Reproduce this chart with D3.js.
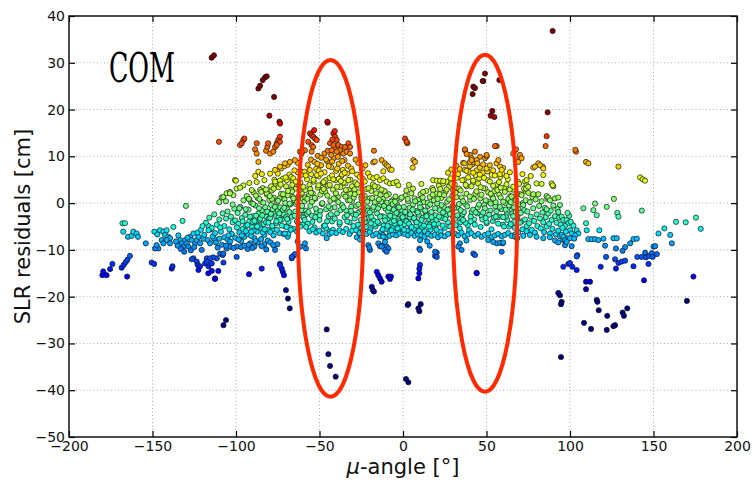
<!DOCTYPE html>
<html>
<head>
<meta charset="utf-8">
<script src="https://cdn.jsdelivr.net/npm/d3@7/dist/d3.min.js"></script>
<style>
  html, body { margin: 0; padding: 0; background: #fff; }
  svg { display: block; }
</style>
</head>
<body>
<svg id="chart" width="754" height="483"></svg>
<script>
// SLR residuals (cm) against mu-angle (deg), grouped by angle range.
const tailLeft = [[-180,-15.4],[-177.5,-15.4],[-179.5,-14.6],[-175.4,-14.1],[-174,-13],[-168.5,-13.8],[-167.2,-13.2],[-166,-12.6],[-165,-12.1],[-163.5,-11.3],[-165.2,-15.7],[-168,-4.3],[-166.5,-4.3],[-167.5,-6.1],[-164.7,-7.2],[-162.5,-7],[-161.5,-6.1],[-159.5,-6.5],[-158.7,-7.2],[-154,-8.6],[-150.5,-12.7],[-149,-13]];

const bandWest = [[-148.9,-6.1],[-147.1,-6.7],[-145.5,-5.8],[-143.5,-6.1],[-142.5,-6.8],[-141.5,-5.8],[-140.5,-7.2],[-139.5,-7.5],[-144.5,-7.9],[-146.5,-9.7],[-148.5,-9.7],[-147.5,-9],[-143.5,-8.6],[-141.5,-7.9],[-139.5,-8.6],[-137.5,-5.1],[-132,-3.8],[-130,-0.6],[-138.5,-14],[-138,-13.5],
[-133.5,-7.9],[-132.5,-8.6],[-131.5,-9.3],[-130.5,-7.9],[-129.5,-8.6],[-128.5,-9.3],[-127.5,-7.2],[-126.5,-7.9],[-125.5,-6.5],[-124.5,-8.6],[-123.5,-7.9],[-122.5,-7.2],[-121.5,-8.6],[-120.5,-10],[-133,-9.8],[-131,-10.4],[-129,-7.4],[-127,-10.1],[-125,-9.4],[-123,-6.3],[-121,-5.7],[-119.5,-7.6],[-134.5,-6.9],[-136,-8.2],[-135,-9.1],[-116.4,-4.9],[-115.2,-5.6],[-113.2,-7.6],
[-125.5,-11.8],[-123.5,-12.5],[-123,-13.2],[-121.5,-13.5],[-118.5,-12.9],[-117.5,-11.8],[-116.5,-13.5],[-114.5,-14.5],[-112.5,-16.1],[-114.5,-12.9],[-111.5,-11.8],[-109.5,-10.8],[-107.5,-12.7],[-108,-11.1],[-126.5,-12],[-122.5,-14.3],[-116.6,-15],[-112.6,-16.2],[-110.6,-14.5],[-113.6,-11.6],[-115.6,-11.8],[-117.5,-12.5],[-107.6,-10.8],[-105.6,-9.7],[-103.6,-9.3],[-99.6,-9.3],[-99.6,-11.5],[-92.2,-15.2],[-84.6,-14],[-107.5,-26.1],[-106,-25]];

const bandWestMid = [[-118,-4.2],[-116,-3.1],[-114.5,-5.3],[-113,-2.4],[-111.5,-4.6],[-110,-3.5],[-109,-6.1],[-108,-2.2],[-107,-4.9],[-106,-3.3],[-105,-1.8],[-104,-5.6],[-103,-2.9],[-102,-4.1],[-101,-1.2],[-100.5,-3.7],[-119,-6.8],[-117,-7.9],[-115.5,-8.6],[-114,-7.1],[-112,-8.4],[-111,-9.5],[-110,-7.6],[-108.5,-8.9],[-107,-7.3],[-106,-9.1],[-105,-7.8],[-103.5,-8.2],[-102.5,-6.6],[-101.5,-9.6],[-100.5,-7.4],[-109.5,-5.2],[-104.5,-6.9],[-112.5,-6.4],[-116.5,-5.8],[-120,-4.9],
[-108.6,1.2],[-107.6,1.3],[-105.6,2.1],[-103.6,2.4],[-101.6,1.7],[-103.6,2.1],[-100.6,4.9],[-100,4.8],[-99.6,3.1],[-110,0.2],[-106,0.4],[-102,-0.3]];

const band100to80 = [[-99,-2.1],[-98.5,-4.4],[-98,-6.3],[-97.5,-0.8],[-97,-8.1],[-96.5,-3.2],[-96,-5.5],[-95.5,0.6],[-95,-7.2],[-94.5,-2.5],[-94,-4.8],[-93.5,1.5],[-93,-6.6],[-92.5,-1.4],[-92,-3.9],[-91.5,-8.6],[-91,0.1],[-90.5,-5.1],[-90,-2.8],[-89.5,2.3],[-89,-7.5],[-88.5,-0.5],[-88,-4.2],[-87.5,-6.1],[-87,1.1],[-86.5,-2.2],[-86,-3.6],[-85.5,-5.3],[-85,0.3],[-84.5,-1.5],[-84,3.2],[-83.5,-4.5],[-83,-6.8],[-82.5,-0.9],[-82,-2.9],[-81.5,1.8],[-81,-5.7],[-80.5,-3.4],[-80,0.7],[-99.5,-5.2],[-98,-1.1],[-96,-3.9],[-94,-6.0],[-92,0.8],[-90,-4.0],[-88,-2.7],[-86,0.9],[-84,-6.3],[-82,-4.1],[-80,-1.9],[-97,-9.4],[-95,-9.1],[-93,-9.8],[-91,-7.0],[-89,-9.3],[-87,-8.4],[-85,-7.7],[-83,-8.8],[-81,-8.0],[-98.5,-7.8],[-96.5,-6.9],[-89.5,-5.9],[-86.5,-4.8],
[-92.4,-8.9],[-90.2,-9.6],[-88.3,-8.1],[-84.7,-9.2],[-81.9,-9.9],[-79.3,-8.4],[-75.2,-8.8],[-63.1,-8.2],[-61.4,-9.3],
[-95.6,3.8],[-90.6,2.8],[-85.6,2.8],[-81.6,2.1],[-87.6,4.5],[-83,4.9],[-86.6,6.7],[-88.5,5.8],[-84.5,6.2],[-92,4.3],[-97.5,3.3],
[-97.6,12.4],[-96.6,12.8],[-95.6,13.5],[-95,13.8],[-87.6,12.8],[-88.6,11.5],[-87.6,10.6],[-86.6,8.8],[-82,11.2],[-81.2,12],[-80.7,12.8],[-80,18.7],[-86.6,24.5],[-85.6,25.1],[-84,26.3],[-82.6,26.9],[-81.6,27.1],[-110.2,13.1],[-114.6,31.1],[-113.2,31.6]];

const band80to60 = [[-79.5,-3.2],[-79,-0.4],[-78.5,2.7],[-78,-5.6],[-77.5,1.2],[-77,-2.1],[-76.5,4.1],[-76,-4.3],[-75.5,0.2],[-75,-1.7],[-74.5,3.4],[-74,-6.4],[-73.5,-0.9],[-73,2.0],[-72.5,-3.5],[-72,5.2],[-71.5,-2.4],[-71,0.8],[-70.5,-5.0],[-70,3.6],[-69.5,-1.2],[-69,1.7],[-68.5,-4.0],[-68,6.1],[-67.5,-0.3],[-67,2.9],[-66.5,-2.9],[-66,4.7],[-65.5,-5.5],[-65,0.5],[-64.5,-1.8],[-64,3.1],[-63.5,-3.9],[-63,6.6],[-62.5,1.4],[-62,-0.7],[-61.5,4.4],[-61,-2.6],[-60.5,2.2],[-60,-4.6],[-79,3.6],[-77,5.0],[-75,6.3],[-73,7.4],[-71,7.9],[-69,8.2],[-67,5.6],[-65,7.0],[-63,8.6],[-61,6.8],[-78,-1.3],[-76,-2.8],[-74,1.0],[-72,-1.4],[-70,-3.0],[-68,-1.9],[-66,1.3],[-64,-0.2],[-62,-2.1],[-60,0.9],[-79.5,-6.2],[-77.5,-6.9],[-75.5,-5.7],[-71.5,-6.6],[-67.5,-5.3],[-63.5,-6.1],[-61.5,-5.0],[-78.5,0.9],[-74.5,-3.0],[-70.5,0.0],[-66.5,2.5],[-62.5,3.8],[-60.5,-1.5],[-69,-7.2],[-68.6,-6.5],[-70.7,-6.5],[-69.7,-5.1],[-73.7,-3.6],
[-79.6,6.3],[-76.6,7.1],[-73.7,7.8],[-70.7,8.5],[-67.7,8.8],[-64.7,9.2],[-61.7,11],[-60.7,10.6],[-59.7,11.3],[-76.6,4.6],[-73.7,4.8],[-69.6,4.9],[-65.7,5.3],[-79.6,10.6],[-75.6,12.8],[-74.7,13.5],[-73.7,14.2],[-76.6,12],[-77.7,11],[-74,17.4],[-73.6,17],[-77.2,22.7],[-73.7,13.1],[-75.6,12.4],
[-77.7,-9],[-76.6,-10],[-73.7,-13],[-72,-14.7],[-71.3,-15.4],[-70.1,-18.6],[-68.9,-20.4],[-67.8,-22.5],[-66.6,-11.8],[-65.7,-11.3],[-64.7,-10.9],[-66.6,-11.5],[-72.6,-14],[-73.7,-13.2],[-58.7,-8.6],[-58.1,-9.7]];

const band60to30 = [[-59.5,-3.1],[-59,0.4],[-58.5,2.8],[-58,-1.6],[-57.5,5.1],[-57,-4.4],[-56.5,1.6],[-56,3.9],[-55.5,-0.6],[-55,6.2],[-54.5,-2.7],[-54,2.1],[-53.5,4.6],[-53,-5.2],[-52.5,0.9],[-52,7.3],[-51.5,-1.9],[-51,3.3],[-50.5,5.7],[-50,-3.6],[-49.5,1.8],[-49,8.1],[-48.5,-0.2],[-48,4.3],[-47.5,-4.9],[-47,6.6],[-46.5,2.4],[-46,-1.3],[-45.5,9.0],[-45,3.7],[-44.5,-2.8],[-44,5.4],[-43.5,0.5],[-43,7.7],[-42.5,-3.9],[-42,2.9],[-41.5,9.6],[-41,-0.9],[-40.5,4.9],[-40,6.9],[-39.5,-2.2],[-39,1.3],[-38.5,8.4],[-38,-4.5],[-37.5,3.4],[-37,5.8],[-36.5,-0.4],[-36,7.1],[-35.5,1.9],[-35,-3.0],[-34.5,4.2],[-34,-1.6],[-33.5,6.3],[-33,0.6],[-32.5,2.8],[-32,-4.1],[-31.5,5.0],[-31,-0.8],[-30.5,3.6],[-30,-2.3],
[-59,6.7],[-57,8.2],[-55,9.3],[-53,8.8],[-51,10.1],[-49,9.7],[-47,10.6],[-45,11.2],[-43,10.3],[-41,11.7],[-39,9.9],[-37,10.8],[-35,9.2],[-33,8.0],[-31,7.4],
[-58,-5.1],[-56,-6.0],[-54,-5.6],[-52,-6.3],[-50,-5.9],[-48,-6.5],[-46,-5.4],[-44,-6.1],[-42,-5.7],[-40,-6.4],[-38,-5.8],[-36,-6.2],[-34,-5.5],[-32,-6.6],[-30.5,-5.9],
[-58.5,1.2],[-55.5,3.0],[-52.5,-3.0],[-49.5,-1.7],[-46.5,4.9],[-43.5,-1.1],[-40.5,0.8],[-37.5,-1.5],[-34.5,1.4],[-31.5,2.0],[-57.5,-2.3],[-54.5,0.3],[-51.5,6.0],[-48.5,2.6],[-45.5,-3.9],[-42.5,5.9],[-39.5,3.5],[-36.5,6.1],[-33.5,-2.6],[-30.5,0.5],[-50.5,7.0],[-44.5,7.9],[-38.5,5.2],[-47.5,3.0],[-41.5,1.0],[-35.5,4.4],
[-55.7,14.9],[-54.7,14.5],[-53.8,14.2],[-52.7,13.8],[-56.7,13.1],[-54.7,12.4],[-51.7,13.5],[-53.8,12],[-58.7,11.3],[-60.7,11],[-54.7,11],[-41.7,14.9],[-40.7,14.2],[-39.7,13.5],[-43.7,12.8],[-41.7,12.4],[-38.7,12.4],[-36.7,12],[-34.7,12],[-32.7,12.8],[-31.7,12],[-37.7,11.3],[-35.7,10.6],[-33.7,11],[-31.7,10.6],[-42.7,11.3],[-39.7,11],[-45.1,17.2],[-45.3,17.4],[-42.3,13.6],[-40.9,15.4],[-53.2,15.6],
[-44.1,-6.6],[-42.7,-6.3],[-45.7,-7.5],[-27.7,-7.3],[-25.7,-7.8],[-26.1,-6.5],[-45.7,-27],[-44.7,-32.3],[-43.7,-34.8],[-40.3,-37.1]];

const band30to0 = [[-29.5,1.2],[-29,-3.3],[-28.5,4.4],[-28,-0.6],[-27.5,6.1],[-27,-4.6],[-26.5,2.3],[-26,-1.8],[-25.5,3.7],[-25,-5.4],[-24.5,0.4],[-24,5.2],[-23.5,-2.6],[-23,1.6],[-22.5,-4.0],[-22,3.0],[-21.5,-0.9],[-21,6.4],[-20.5,-3.1],[-20,1.0],[-19.5,-5.6],[-19,2.6],[-18.5,-1.5],[-18,4.0],[-17.5,-3.7],[-17,0.2],[-16.5,-5.0],[-16,2.1],[-15.5,-2.2],[-15,3.4],[-14.5,-4.3],[-14,-0.5],[-13.5,1.7],[-13,-6.1],[-12.5,-2.8],[-12,0.9],[-11.5,-4.8],[-11,2.6],[-10.5,-1.2],[-10,-5.5],[-9.5,0.1],[-9,-3.3],[-8.5,1.9],[-8,-6.2],[-7.5,-2.0],[-7,-4.1],[-6.5,0.6],[-6,-5.3],[-5.5,-1.4],[-5,-3.0],[-4.5,1.4],[-4,-4.7],[-3.5,-0.3],[-3,-6.0],[-2.5,-2.4],[-2,-3.8],[-1.5,0.9],[-1,-5.1],[-0.5,-1.6],[0,-3.4],
[-28,-5.8],[-26,-6.4],[-24,-5.9],[-22,-6.6],[-20,-6.2],[-18,-6.9],[-16,-6.5],[-14,-7.1],[-12,-6.8],[-10,-7.3],[-8,-7.0],[-6,-6.7],[-4,-6.9],[-2,-6.5],[0,-6.2],
[-29,2.9],[-27,-2.1],[-25,1.1],[-23,-3.3],[-21,-1.6],[-19,-2.9],[-17,-4.5],[-15,-1.1],[-13,0.3],[-11,-3.0],[-9,-1.8],[-7,0.3],[-5,-4.4],[-3,-0.9],[-1,-2.6],
[-19.8,5.6],[-17.8,5.3],[-15.7,5.6],[-13.8,4.9],[-11.8,5.3],[-9.8,4.6],[-7.8,4.2],[-5.8,4.3],[-3.8,4.6],[-2.8,3.8],[-12.8,9.2],[-10.8,8.5],[-9.8,8.1],[-8.8,7.8],[-7.8,7.2],[-6.8,7.1],[-11.8,6.8],[-17.4,11.2],[-17.8,8.7],[-16.9,8.9],[-24.2,7.4],[-22.5,8.1],[-26.8,8.6],[-28.4,9.3],
[-20.8,-9],[-19.8,-10],[-20.2,-9.5],[-14.8,-8.6],[-13.8,-9.2],[-11.8,-9],[-9.8,-9.3],[-8.8,-9.7],[-10.8,-10],[-11.8,-7.2],[-10.8,-8.3],[-12.8,-9.3],[-9.8,-10.4],[-15.7,-14.7],[-14.8,-15.4],[-13.8,-16.1],[-12.8,-16.8],[-18.7,-17.9],[-18.1,-18.6],[-17.4,-18.9],[-8.8,-15.7],[-7.2,-15.7],[-7.8,-16.2]];

const band0to30 = [[0.5,-0.8],[1,-4.5],[1.5,1.6],[2,-2.2],[2.5,-5.9],[3,0.4],[3.5,-3.5],[4,-1.0],[4.5,-4.9],[5,2.1],[5.5,-2.9],[6,-0.3],[6.5,-5.5],[7,1.0],[7.5,-3.8],[8,-1.7],[8.5,-6.3],[9,0.7],[9.5,-2.5],[10,-4.6],[10.5,1.9],[11,-1.2],[11.5,-5.2],[12,-3.1],[12.5,0.2],[13,-6.0],[13.5,-2.0],[14,2.6],[14.5,-4.3],[15,-0.6],[15.5,-3.4],[16,1.3],[16.5,-5.7],[17,-1.9],[17.5,3.2],[18,-3.9],[18.5,0.6],[19,-5.0],[19.5,-2.6],[20,2.0],[20.5,-0.1],[21,-4.4],[21.5,3.7],[22,-1.5],[22.5,-6.1],[23,1.1],[23.5,-3.2],[24,4.2],[24.5,-0.8],[25,-5.3],[25.5,2.4],[26,-2.7],[26.5,0.3],[27,-4.1],[27.5,3.5],[28,-1.2],[28.5,5.3],[29,-6.4],[29.5,1.6],[30,-3.0],
[1,-6.6],[3,-6.9],[5,-6.4],[7,-7.0],[9,-6.7],[11,-6.9],[13,-7.2],[15,-6.6],[17,-7.0],[19,-6.8],[21,-7.3],[23,-6.9],[25,-7.1],[27,-6.6],
[2,2.7],[4,-3.0],[6,3.1],[8,-4.8],[10,-0.2],[12,2.4],[14,-2.6],[16,-4.6],[18,2.8],[20,-3.6],[22,1.9],[24,-2.0],[26,4.6],[28,-2.3],[30,2.7],
[18.1,4.9],[20.2,4.8],[22.2,4.8],[24.1,4.7],[6.2,9.2],[7.2,8.8],[5.8,7.6],[1.2,13.8],[2.6,12.8],[2.2,13.1],[27,6.5],[29,7.2],[11,4.1],[3.5,3.9],
[10.2,-7.9],[9.8,-9.7],[10.2,-10],[20.2,-10.6],[19.2,-11.3],[20.2,-11.5],[19.2,-10.4],[10.2,-13.2],[9.8,-14],[9.2,-16.1],[9.8,-15],[3.2,-21.6],[2.8,-21.8],[9.2,-22.5],[9.8,-23.1],[10.6,-21.6],[1.8,-37.6],[3.2,-38.3],[14.5,-8.2],[16,-9.1]];

const band30to70 = [[30.5,-1.1],[31,4.0],[31.5,-4.7],[32,1.3],[32.5,-2.6],[33,6.2],[33.5,-0.2],[34,-5.4],[34.5,2.7],[35,-3.3],[35.5,4.9],[36,0.4],[36.5,-1.9],[37,7.1],[37.5,-4.2],[38,2.0],[38.5,-0.7],[39,5.5],[39.5,-5.8],[40,1.4],[40.5,-2.9],[41,3.6],[41.5,8.3],[42,-1.4],[42.5,0.9],[43,-4.6],[43.5,6.0],[44,2.5],[44.5,-2.2],[45,4.2],[45.5,-0.3],[46,7.6],[46.5,-5.1],[47,1.8],[47.5,-3.5],[48,3.2],[48.5,5.4],[49,-1.1],[49.5,0.6],[50,-4.0],[50.5,6.8],[51,2.3],[51.5,-2.5],[52,4.6],[52.5,-0.1],[53,-5.6],[53.5,1.5],[54,3.7],[54.5,-3.1],[55,5.9],[55.5,0.2],[56,-1.8],[56.5,2.8],[57,-4.4],[57.5,4.5],[58,-0.8],[58.5,1.2],[59,-2.9],[59.5,6.3],[60,0.3],[60.5,-5.0],[61,2.4],[61.5,-1.4],[62,4.0],[62.5,-3.6],[63,0.9],[63.5,-0.5],[64,2.9],[64.5,-4.5],[65,1.4],[65.5,-2.2],[66,3.5],[66.5,-0.9],[67,-5.3],[67.5,0.6],[68,2.1],[68.5,-3.0],[69,-1.3],[69.5,4.1],[70,-4.2],
[31,-6.5],[33,-6.9],[35,-6.3],[37,-7.1],[39,-6.7],[41,-6.4],[43,-7.0],[45,-6.6],[47,-7.2],[49,-6.8],[51,-6.5],[53,-7.3],[55,-6.9],[57,-6.6],[59,-7.1],[61,-6.8],[63,-6.4],[65,-7.0],[67,-6.7],[69,-6.3],
[32,8.0],[34,7.3],[36,8.6],[38,6.9],[40,7.9],[42,6.5],[44,8.8],[46,6.1],[48,8.3],[50,7.4],[52,8.1],[54,7.0],[56,8.5],[58,6.2],[60,7.5],[62,5.8],[64,6.6],
[31.5,2.2],[34.5,-1.5],[37.5,3.9],[40.5,-3.9],[43.5,-2.0],[46.5,3.4],[49.5,-3.2],[52.5,2.0],[55.5,-2.9],[58.5,3.3],[61.5,-2.9],[64.5,0.2],[67.5,-1.9],[36,-3.6],[42,4.8],[48,-2.0],[54,1.0],[60,-3.0],[66,-2.8],
[37.1,11.3],[40.1,10.3],[41.1,9.6],[42.1,8.8],[46.1,9.9],[49.1,9.6],[50.1,10],[56.1,12.2],[57.1,9.2],[58.1,7.8],[59.1,7.1],[67,11.3],[68.1,9.2],[69,8.8],[38.1,10.5],[43.1,11],[50.1,10.3],[44.1,9.2],[44.5,8.5],[40.1,8.8],[36.7,8.5],[41.1,9.2],[66,10.6],[70,10.3],[71,9.6],[37.1,11.5],[55.1,12.2],[67.7,11.5],
[42.1,24.9],[41.7,23.3],[48.1,26.1],[49.1,27.7],[47.7,26.1],[43.1,24.6],[57.7,26.3],[53.5,19.7],[52.5,18.7],[54.7,18.4],
[34.1,-8.6],[33.1,-9.3],[35.1,-10],[42.1,-10.8],[43.1,-11.1],[44.1,-14.9],[44.1,-15],[56.1,-8.6],[58.1,-8.5],[59.7,-8.6],[59.1,-10.4],[60,-8.4],[67.1,-7.2],[68.4,-7.5],[38,-8.0],[51,-7.9],[54,-8.3]];

const band70to105 = [[70.5,-2.1],[71,1.7],[71.5,-5.6],[72,-0.4],[72.5,3.1],[73,-3.5],[73.5,0.6],[74,-6.0],[74.5,-1.8],[75,2.2],[75.5,-4.3],[76,0.2],[76.5,-2.9],[77,-5.7],[77.5,1.3],[78,-1.1],[78.5,-3.8],[79,-6.3],[79.5,0.8],[80,-2.4],[80.5,-4.9],[81,1.9],[81.5,-0.6],[82,-3.3],[82.5,-5.4],[83,0.4],[83.5,-2.0],[84,-4.1],[84.5,-6.2],[85,-1.0],[85.5,-3.0],[86,-5.0],[86.5,0.9],[87,-2.2],[87.5,-4.4],[88,-6.5],[88.5,-1.6],[89,-3.6],[89.5,-5.5],[90,-0.5],[91,-2.8],[91.5,-6.7],[92,-4.2],[92.5,-1.3],[93,-5.9],[93.5,-3.1],[94,-7.1],[94.5,-4.6],
[72,-7.0],[76,-6.8],[80,-7.2],[84,-7.5],[88,-7.3],[91,-8.0],[93,-8.4],
[73,4.6],[74,3.8],[73.7,3.1],[80,4.2],[83,4.1],[89,4.2],[90,3.6],[78,1.9],[86,1.5],[87,1.2],[88,0.6],[91,1.0],[93,1.2],[78,7.6],[81,8.5],[83.6,7.8],[79,7.8],[82,8.1],[84,7.4],[84,6],[89.6,3.8],[74,4.9],[75,3.5],[76.5,5.8],[86,14.3],[85.4,12.2],[86.6,19.4],[89.6,36.8],[71.5,6.2],
[94,-0.4],[93,-1.9],[95,-2.9],[96,-3.6],[98,-3.6],[99,-4.3],[97,-4.9],[100,-5.8],[101,-6.5],[104,-5.8],[105,-6.5],[95,-6.8],[96,-7.9],[98,-7.5],[100,-7.5],[97,-9],[101,-9.2],[96,-7.2],[97,-7.9],[98,-8.3],[86,-1.3],
[99.5,-2.7],[102,-4.8],[103,-6.9],[97.5,-6.1],[100.5,-4.0],[102.5,-7.6],[95.5,-5.3],[98.5,-2.1]];

const tailRight = [[103.6,11],[103.2,11.4],[109.6,8.8],[111,8.5],[129,7.8],[142,5.5],[143.5,5.1],[144.9,4.8],
[108,-1.1],[114,-1.5],[115,-0.1],[116,-2.6],[122,-0.8],[126.3,0.9],[128.3,-2.1],[129,-2.9],[143,-1.6],
[109.6,-4.3],[110,-5.8],[111,-7.7],[113,-7.7],[115,-7.7],[117,-7.9],[120,-7.6],[126,-7.5],[128,-7.5],[138,-7.7],[140,-7.6],[117.6,-5.8],
[104.4,-11.1],[104,-11.4],[96,-13.6],[99,-13],[100,-12.8],[101.4,-13.6],[104,-14.3],[121.6,-11.5],[118.4,-13.6],[127.5,-9.7],[127,-12],[129,-12.8],[131,-12.5],[133,-12.3],[127.5,-14],[138,-13.5],[140.3,-11.5],[143,-11.5],[145,-10.6],[145.5,-11.6],[147,-13],[147.5,-11.3],[149,-10.7],[150,-9.3],[151,-9.2],[152,-10.9],[149.5,-11.5],[144.3,-16.5],[133,-9.4],[136,-8.6],[131.5,-10.2],[121,-9.1],
[153,-6.5],[156.5,-5.4],[160,-6.8],[161,-8.6],[163.5,-4],[169.3,-4.1],[175.4,-3.1],[178.3,-5.5],[173.9,-15.7],[170,-20.9],
[109.6,-16.8],[112,-16.8],[109.6,-18.4],[93,-19.2],[94,-19.7],[95,-21.1],[94.6,-21.6],[116,-20.7],[116.4,-21.1],[117.2,-22.9],[108.4,-25.6],[112.6,-26.9],[122.3,-24.1],[122,-27.1],[126,-26.3],[127,-26.1],[131.5,-23.4],[132.3,-24.1],[134.3,-22.5],[94.6,-32.9]];

// extra passes through the dense central band
const coreFill = [[-94.2,-1.3],[-93.1,-4.7],[-92.3,0.9],[-91.6,-2.9],[-90.8,-6.1],[-89.7,-0.2],[-88.9,-3.8],[-88.1,1.6],[-87.3,-5.0],[-86.2,-1.1],[-85.4,-3.3],[-84.9,2.4],
[-84.3,-2.6],[-83.6,0.1],[-82.8,-5.6],[-82.1,2.9],[-81.3,-1.8],[-80.6,-4.2],[-79.8,1.5],[-79.1,-2.3],[-78.3,-4.9],[-77.4,3.1],[-76.7,-0.8],[-75.8,-3.9],
[-74.8,0.5],[-74.1,-2.2],[-73.3,4.0],[-72.6,-4.8],[-71.8,1.9],[-71.1,-1.0],[-70.3,5.5],[-69.4,-3.4],[-68.8,2.6],[-67.9,-0.1],[-67.2,-5.7],[-66.3,3.9],[-65.6,1.0],
[-64.9,-2.7],[-64.2,4.6],[-63.4,0.2],[-62.7,-4.3],[-61.9,2.8],[-61.2,6.0],[-60.4,-0.6],[-59.7,3.5],[-58.9,-3.6],[-58.2,5.9],[-57.3,0.9],[-56.6,-1.9],[-55.8,7.1],[-55.1,2.2],
[-54.3,-4.0],[-53.6,5.0],[-52.8,1.1],[-52.1,-1.2],[-51.3,8.4],[-50.6,3.8],[-49.8,-2.6],[-49.1,6.3],[-48.3,0.0],[-47.6,4.5],[-46.8,-4.8],[-46.1,9.3],[-45.3,1.6],[-44.6,-0.7],
[-43.9,3.9],[-43.2,-2.4],[-42.4,8.9],[-41.7,5.1],[-40.9,-3.3],[-40.2,2.1],[-39.4,7.4],[-38.7,0.2],[-37.9,-4.1],[-37.2,4.7],[-36.4,9.0],[-35.7,-0.9],[-34.9,6.5],
[-34.2,2.8],[-33.4,-3.9],[-32.7,4.9],[-31.9,0.6],[-31.2,-1.7],[-30.4,6.8],[-29.7,-4.9],[-28.9,1.9],[-28.2,-2.5],[-27.4,4.0],[-26.7,-0.3],[-25.9,5.6],
[-25.2,-3.6],[-24.4,1.5],[-23.7,-1.2],[-22.9,4.6],[-22.2,-5.1],[-21.4,0.3],[-20.7,3.2],[-19.9,-2.0],[-19.2,-4.3],[-18.4,1.1],[-17.7,-0.8],[-16.9,3.6],
[-15.2,-4.0],[-14.4,0.8],[-13.7,-2.9],[-12.9,2.9],[-12.2,-5.6],[-11.4,-0.6],[-10.7,-3.7],[-9.9,1.6],[-9.2,-4.9],[-8.4,-1.0],[-7.7,-2.7],[-6.9,-5.8],[-6.2,-0.2],
[-5.4,-3.8],[-4.7,0.3],[-3.9,-2.1],[-3.2,-5.4],[-2.4,-0.9],[-1.7,-4.2],[-0.9,1.2],[-0.2,-3.0],[0.6,-5.7],[1.3,-1.9],[2.1,-3.9],[2.8,0.9],[3.6,-4.4],[4.3,-2.4],
[5.1,-5.1],[5.8,-1.4],[6.6,-3.2],[7.3,0.4],[8.1,-4.1],[8.8,-2.0],[9.6,-5.9],[10.3,-0.9],[11.1,-3.6],[11.8,1.2],[12.6,-4.8],[13.3,-1.6],[14.1,-2.8],[14.8,0.1],
[15.6,-5.0],[16.3,-0.3],[17.1,-3.0],[17.8,1.8],[18.6,-4.5],[19.3,-1.1],[20.1,-5.7],[20.8,0.9],[21.6,-2.9],[22.3,3.0],[23.1,-0.4],[23.8,-4.8],[24.6,1.7],
[25.3,-3.4],[26.1,2.9],[26.8,-1.4],[27.6,0.8],[28.3,-5.0],[29.1,4.1],[29.8,-0.6],[30.6,2.0],[31.3,-3.3],[32.1,5.4],[32.8,-1.0],[33.6,3.1],[34.3,-4.1],
[35.1,1.2],[35.8,-2.4],[36.6,5.0],[37.3,-0.2],[38.1,3.6],[38.8,-4.7],[39.6,6.7],[40.3,0.7],[41.1,-1.9],[41.8,4.4],[42.6,-3.5],[43.3,2.0],[44.1,7.0],[44.8,-0.9],
[45.6,5.3],[46.3,1.0],[47.1,-2.8],[47.8,6.5],[48.6,-0.4],[49.3,3.1],[50.1,-4.3],[50.8,4.9],[51.6,0.3],[52.3,-1.6],[53.1,6.0],[53.8,-3.8],[54.6,2.5],
[55.3,-0.7],[56.1,4.0],[56.8,-3.0],[57.6,1.8],[58.3,5.6],[59.1,-1.3],[59.8,-4.6],[60.6,3.2],[61.3,0.0],[62.1,-2.4],[62.8,5.1],[63.6,-5.0],[64.3,1.5],
[65.1,-1.6],[65.8,2.9],[66.6,-4.0],[67.3,0.9],[68.1,-2.5],[68.8,4.6],[69.6,-0.3],[70.3,1.9],[71.1,-3.9],[71.8,0.0],[72.6,-1.5],[73.3,2.6],[74.1,-4.9]];

// Axis ticks and highlighted regions (centre x, centre y, half-width, half-height; data units)
const xTicks = [-200, -150, -100, -50, 0, 50, 100, 150, 200];
const yTicks = [-50, -40, -30, -20, -10, 0, 10, 20, 30, 40];
const highlights = [[-43.4, -5.4, 19.5, 36], [49.1, -4.3, 19.2, 36]];

const points = [].concat(tailLeft, bandWest, bandWestMid, band100to80, band80to60,
  band60to30, band30to0, band0to30, coreFill, band30to70, band70to105, tailRight);

// matplotlib "jet" colormap
function jet(t) {
  t = Math.max(0, Math.min(1, t));
  const seg = (stops) => {
    for (let i = 1; i < stops.length; i++) {
      if (t <= stops[i][0]) {
        const [t0, v0] = stops[i - 1], [t1, v1] = stops[i];
        return v0 + (v1 - v0) * (t - t0) / (t1 - t0);
      }
    }
    return stops[stops.length - 1][1];
  };
  const r = seg([[0, 0], [0.35, 0], [0.66, 1], [0.89, 1], [1, 0.5]]);
  const g = seg([[0, 0], [0.125, 0], [0.375, 1], [0.64, 1], [0.91, 0], [1, 0]]);
  const b = seg([[0, 0.5], [0.11, 1], [0.34, 1], [0.65, 0], [1, 0]]);
  return d3.rgb(r * 255, g * 255, b * 255).toString();
}

const svg = d3.select("#chart");
const margin = { left: 69, right: 17, top: 16, bottom: 46 };
const W = 754, H = 483;
const x = d3.scaleLinear().domain([-200, 200]).range([margin.left, W - margin.right]);
const y = d3.scaleLinear().domain([-50, 40]).range([H - margin.bottom, margin.top]);
const color = d3.scaleLinear().domain([-20, 20]).range([0, 1]).clamp(true);

const x0 = x.range()[0], x1 = x.range()[1], y0 = y.range()[0], y1 = y.range()[1];

// dotted grid
const grid = svg.append("g").attr("stroke", "#9a9a9a").attr("stroke-width", 0.8)
  .attr("stroke-dasharray", "1,2.5");
grid.selectAll("line.gx").data(xTicks.slice(1, -1)).join("line")
  .attr("x1", d => x(d)).attr("x2", d => x(d)).attr("y1", y0).attr("y2", y1);
grid.selectAll("line.gy").data(yTicks.slice(1, -1)).join("line")
  .attr("x1", x0).attr("x2", x1).attr("y1", d => y(d)).attr("y2", d => y(d));

// scatter points
svg.append("g").selectAll("circle").data(points).join("circle")
  .attr("cx", d => x(d[0])).attr("cy", d => y(d[1])).attr("r", 2.6)
  .attr("fill", d => jet(color(d[1])))
  .attr("stroke", "#111").attr("stroke-width", 0.7);

// highlight ellipses
svg.append("g").selectAll("ellipse").data(highlights).join("ellipse")
  .attr("cx", d => x(d[0])).attr("cy", d => y(d[1]))
  .attr("rx", d => x(d[0] + d[2]) - x(d[0]))
  .attr("ry", d => y(d[1] - d[3]) - y(d[1]))
  .attr("fill", "none").attr("stroke", "#ff2a00").attr("stroke-width", 4);

// axes with inward ticks on all sides
const tickFont = "DejaVu Sans, sans-serif";
const fmt = d => d < 0 ? "\u2212" + Math.abs(d) : String(d);
const axB = d3.axisBottom(x).tickValues(xTicks).tickSize(-6).tickPadding(4).tickFormat(fmt);
const axT = d3.axisTop(x).tickValues(xTicks).tickSize(-6).tickFormat("");
const axL = d3.axisLeft(y).tickValues(yTicks).tickSize(-6).tickPadding(4).tickFormat(fmt);
const axR = d3.axisRight(y).tickValues(yTicks).tickSize(-6).tickFormat("");

function style(g) {
  g.select(".domain").remove();
  g.selectAll(".tick line").attr("stroke", "#000").attr("stroke-width", 1.2);
  g.selectAll(".tick text").attr("font-family", tickFont).attr("font-size", 14).attr("fill", "#111");
}
svg.append("g").attr("transform", `translate(0,${y0})`).call(axB).call(style);
svg.append("g").attr("transform", `translate(0,${y1})`).call(axT).call(style);
svg.append("g").attr("transform", `translate(${x0},0)`).call(axL).call(style);
svg.append("g").attr("transform", `translate(${x1},0)`).call(axR).call(style);

// frame
svg.append("rect").attr("x", x0).attr("y", y1).attr("width", x1 - x0).attr("height", y0 - y1)
  .attr("fill", "none").attr("stroke", "#111").attr("stroke-width", 1.5);

// axis labels
const xl = svg.append("text").attr("x", (x0 + x1) / 2).attr("y", 474)
  .attr("text-anchor", "middle").attr("font-family", tickFont).attr("font-size", 21).attr("fill", "#111");
xl.append("tspan").attr("font-style", "italic").text("\u03bc");
xl.append("tspan").text("-angle [\u00b0]");

svg.append("text").attr("transform", `translate(30,${(y0 + y1) / 2}) rotate(-90)`)
  .attr("text-anchor", "middle").attr("font-family", tickFont).attr("font-size", 21).attr("fill", "#111")
  .text("SLR residuals [cm]");

// panel tag
svg.append("text").attr("x", 109).attr("y", 82).attr("font-family", "DejaVu Serif, serif")
  .attr("font-size", 41).attr("fill", "#000").attr("textLength", 66).attr("lengthAdjust", "spacingAndGlyphs")
  .text("COM");
</script>
</body>
</html>
